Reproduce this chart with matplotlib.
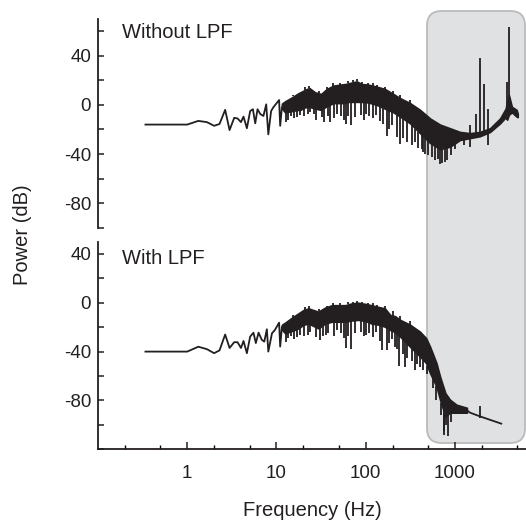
import matplotlib
matplotlib.use('Agg')
import matplotlib.pyplot as plt
import numpy as np
from matplotlib.patches import FancyBboxPatch
from matplotlib.ticker import MultipleLocator, FixedLocator, NullFormatter

# SECTION 1: VALUES

# without LPF - sparse low frequency part of the spectrum
top_line_f = [0.34, 1.0, 1.33, 1.66, 2.0, 2.3, 2.66, 2.98, 3.36, 3.66, 4.0, 4.27, 4.66, 5.07, 5.44,
              5.78, 6.13, 6.6, 7.14, 7.67, 8.1, 8.7, 9.2, 9.8, 10.7, 11.0, 11.5]
top_line_db = [-16, -16, -13, -14, -17, -15.5, -4, -20.5, -10.5, -11, -14, -9.5, -19, -5, -3.5,
               -15, -3.5, -7.5, -9, 0.5, -24, -5, -2, 0.5, 4, -17, -2]

# without LPF - dense part, upper and lower envelope of the noise band
top_band_f = [11.5, 12.5, 14.8, 17.6, 18.5, 20.8, 23.3, 27, 31.6, 36.6, 43.4, 51.5, 58.8, 64, 79.4, 90,
              107, 133, 164, 204, 243, 314, 406, 526, 680, 880, 1140, 1475, 1900, 2470, 3200, 3700,
              3840, 4020, 4340, 4900, 5050]
top_band_hi = [1, 3, 6, 9.5, 10.3, 12.2, 13.8, 10.3, 8.9, 13, 15.7, 16.5, 17, 17.6, 19.2, 17,
               16.5, 14.9, 13, 8.9, 5.5, 1.5, -4, -11, -16, -19, -22, -23, -22, -19, -11, -3,
               3, 8, -1.5, -4, -7]
top_band_lo = [-3, -6, -5, -4, -4, -2, -1.5, -3, -4, -1, 1.5, 1.5, 1.5, 2.5, 2.5, 2.5,
               2, 0, -3, -6, -9.5, -15, -23, -31, -36, -34, -28.5, -27, -25.5, -22, -15, -10,
               -12, -8, -6, -9.5, -10]

# without LPF - small peaks sticking out of the top of the band
top_tip_f = [15.5, 20.8, 23.3, 30, 36.6, 43.4, 51.5, 64, 72, 79.4, 90, 107, 120, 133, 164, 200, 243, 314]
top_tip_db = [8, 14.5, 15.5, 11, 15, 17.5, 18, 19.5, 20, 21, 19, 18, 17.5, 16.5, 14.5, 11, 8, 4]

# without LPF - single downward dips and upward spikes
top_dip_f = [12.7, 13.5, 14.5, 15.8, 16.9, 18.5, 20.5, 22.4, 24, 26, 28, 32, 34, 38, 40, 44, 48, 53,
             57, 60.5, 64, 68.6, 75, 88, 95, 101, 110, 120, 130, 145, 158, 173, 180, 195, 225, 243,
             260, 290, 330, 360, 390, 425, 440, 465, 500, 550, 600, 640, 680, 720, 780, 820, 900,
             1000, 1250, 1475, 2340]
top_dip_db = [-14, -12, -9, -11, -10, -8, -9, -7.3, -6, -7.3, -12, -10, -14, -9, -14, -11, -7, -9,
              -12, -15.4, -9, -16.3, -10, -8, -12, -7.3, -9, -11, -8, -13, -15.4, -25, -20, -16, -26, -31.7,
              -27, -30, -33, -30.4, -35, -35.8, -38, -39.8, -41, -42.6, -45, -44, -48, -47, -46.7, -45, -41,
              -36, -33, -34.5, -33]
top_spike_f = [1475, 1700, 1900, 2120, 2340, 3840, 4020]
top_spike_db = [-16, -7, 38, 17, -3, 19, 63.5]

# with LPF - sparse low frequency part
bot_line_f = [0.34, 1.0, 1.33, 1.66, 2.0, 2.3, 2.66, 2.98, 3.36, 3.66, 4.0, 4.27, 4.66, 5.07, 5.52,
              5.87, 6.3, 6.85, 7.3, 7.8, 8.1, 8.9, 9.6, 10.7, 11.0, 11.5]
bot_line_db = [-40, -40, -36, -38, -41.3, -39, -26, -37, -32.3, -32.3, -37, -31.3, -41.3, -27.7, -24.5,
               -33, -24.5, -30.4, -31.8, -21.7, -40, -25, -22.3, -16.3, -35.9, -20]

# with LPF - dense part
bot_band_f = [11.5, 12.5, 15, 17.6, 20, 22.8, 26, 29.5, 35, 41.8, 50, 58.8, 70, 82.6, 100, 116, 140,
              164, 188, 213, 243, 314, 406, 475, 526, 620, 680, 780, 880, 1040, 1360]
bot_band_hi = [-18, -16.3, -12, -8.7, -6, -4.6, -6, -7.3, -4, -2, -2, -2, -0.5, 0, -1, -2, -3.5,
               -4.6, -10, -11, -14, -18, -23.7, -29, -36, -49.4, -60.4, -74, -79.4, -83.5, -86]
bot_band_lo = [-22, -25, -23, -21, -18, -17, -19, -21, -17, -15.5, -15.5, -15.5, -14.5, -14, -15, -17, -18,
               -19.6, -22.3, -24, -27.7, -36, -44, -49.4, -57.6, -68.5, -79.4, -93, -90, -90, -90]

bot_tip_f = [15.5, 20.8, 23.3, 30, 36.6, 43.4, 51.5, 64, 72, 79.4, 90, 107, 120, 133, 164, 200, 243, 314]
bot_tip_db = [-10, -3.5, -2.5, -5, -2.5, -0.5, 0, 0.5, 1, 1.5, 0.5, 0, -0.5, -1.5, -3, -7, -11, -15]

# with LPF - high frequency tail after the filter
bot_tail_f = [1360, 1475, 1900, 3300]
bot_tail_db = [-88, -90, -93, -99]

bot_dip_f = [12.7, 13.5, 14.5, 15.8, 16.9, 18.5, 20.5, 22.4, 24, 28, 30.8, 33, 36, 38, 44, 48, 53, 57,
             60.5, 64, 68.6, 75, 88, 95, 102, 110, 120, 130, 145, 153, 173, 180, 195, 213, 225, 236,
             260, 276, 290, 330, 360, 380, 406, 440, 490, 560, 620, 700, 745, 760, 800, 840, 900]
bot_dip_db = [-31.8, -29, -27, -30, -27.7, -26, -27, -26.4, -24, -28, -30.4, -27, -26.4, -25, -27, -22,
              -25, -29, -37.2, -27, -38, -25, -24, -27, -26.4, -25, -28, -24, -31, -38.6, -38.6, -33,
              -30, -35.9, -38, -51.7, -42, -52.2, -45, -48, -54.9, -50, -52.2, -55, -58, -70, -80, -92,
              -108, -105, -100, -109.3, -98]
bot_spike_f = [1900]
bot_spike_lo = [-94]
bot_spike_hi = [-84.3]

# SECTION 2: PLOTTING

line_col = '#231f20'
plt.rcParams['font.family'] = ['Liberation Sans', 'DejaVu Sans']
plt.rcParams['axes.unicode_minus'] = False

fig = plt.figure(figsize=(5.26, 5.21), dpi=100)
ax_top = fig.add_axes([98 / 526, 1 - 227.7 / 521, 428 / 526, 208.7 / 521])
ax_bot = fig.add_axes([98 / 526, 1 - 449.3 / 521, 428 / 526, 207.6 / 521])

# grey highlight box over the high frequency region of both panels
box = FancyBboxPatch((427 / 526, 1 - 443 / 521), 98 / 526, 432 / 521,
                     boxstyle='round,pad=0,rounding_size=0.028', transform=fig.transFigure,
                     facecolor='#e0e1e3', edgecolor='#b9bbbd', linewidth=1.3, zorder=-1)
fig.add_artist(box)


def draw_spectrum(ax, line_f, line_db, band_f, band_hi, band_lo, dip_f, dip_db, tip_f, tip_db):
    ax.plot(line_f, line_db, color=line_col, lw=1.3)
    ax.fill_between(band_f, band_lo, band_hi, color=line_col, lw=1.2, edgecolor=line_col)
    # dips start from the bottom edge of the band, tips from the top edge
    dip_top = np.interp(np.log10(dip_f), np.log10(band_f), band_lo)
    ax.vlines(dip_f, dip_db, dip_top, color=line_col, lw=1.3)
    tip_base = np.interp(np.log10(tip_f), np.log10(band_f), band_hi)
    ax.vlines(tip_f, tip_base, tip_db, color=line_col, lw=1.3)


draw_spectrum(ax_top, top_line_f, top_line_db, top_band_f, top_band_hi, top_band_lo,
              top_dip_f, top_dip_db, top_tip_f, top_tip_db)
spike_base = np.interp(np.log10(top_spike_f), np.log10(top_band_f), top_band_lo)
ax_top.vlines(top_spike_f, spike_base, top_spike_db, color=line_col, lw=1.3)

draw_spectrum(ax_bot, bot_line_f, bot_line_db, bot_band_f, bot_band_hi, bot_band_lo,
              bot_dip_f, bot_dip_db, bot_tip_f, bot_tip_db)
ax_bot.plot(bot_tail_f, bot_tail_db, color=line_col, lw=1.3)
ax_bot.vlines(bot_spike_f, bot_spike_lo, bot_spike_hi, color=line_col, lw=1.3)

# axes formatting
for ax in [ax_top, ax_bot]:
    ax.set_facecolor('none')
    ax.set_xscale('log')
    ax.set_xlim(0.1, 6250)
    ax.spines['top'].set_visible(False)
    ax.spines['right'].set_visible(False)
    ax.spines['left'].set_linewidth(1.3)
    ax.spines['left'].set_color(line_col)
    ax.yaxis.set_major_locator(MultipleLocator(40))
    ax.yaxis.set_minor_locator(MultipleLocator(20))
    ax.tick_params(axis='y', which='both', direction='in', length=4, width=1.1,
                   labelsize=13.5, pad=5, colors=line_col)

ax_top.set_ylim(-100, 70)
ax_bot.set_ylim(-120, 50)
ax_top.set_yticks([40, 0, -40, -80])
ax_bot.set_yticks([40, 0, -40, -80])

ax_top.spines['bottom'].set_visible(False)
ax_top.tick_params(axis='x', which='both', bottom=False, labelbottom=False)

ax_bot.spines['bottom'].set_linewidth(1.3)
ax_bot.spines['bottom'].set_color(line_col)
ax_bot.xaxis.set_major_locator(FixedLocator([1, 10, 100, 1000]))
ax_bot.set_xticklabels(['1', '10', '100', '1000'])
ax_bot.xaxis.set_minor_locator(FixedLocator([0.2, 0.5, 2, 5, 20, 50, 200, 500, 2000, 5000]))
ax_bot.xaxis.set_minor_formatter(NullFormatter())
ax_bot.tick_params(axis='x', which='major', direction='in', length=5, width=1.1,
                   labelsize=13.5, pad=11, colors=line_col)
ax_bot.tick_params(axis='x', which='minor', direction='in', length=3, width=1.0)
ax_bot.set_xlabel('Frequency (Hz)', fontsize=14.5, color=line_col, labelpad=14)

# panel titles and shared y label
fig.text(122 / 526, 1 - 32 / 521, 'Without LPF', fontsize=14.5, color=line_col, va='center', ha='left')
fig.text(122 / 526, 1 - 258.5 / 521, 'With LPF', fontsize=14.5, color=line_col, va='center', ha='left')
fig.text(23 / 526, 1 - 235 / 521, 'Power (dB)', fontsize=14.5, color=line_col, rotation=90,
         va='center', ha='center')

fig.savefig('out.png', dpi=100)
